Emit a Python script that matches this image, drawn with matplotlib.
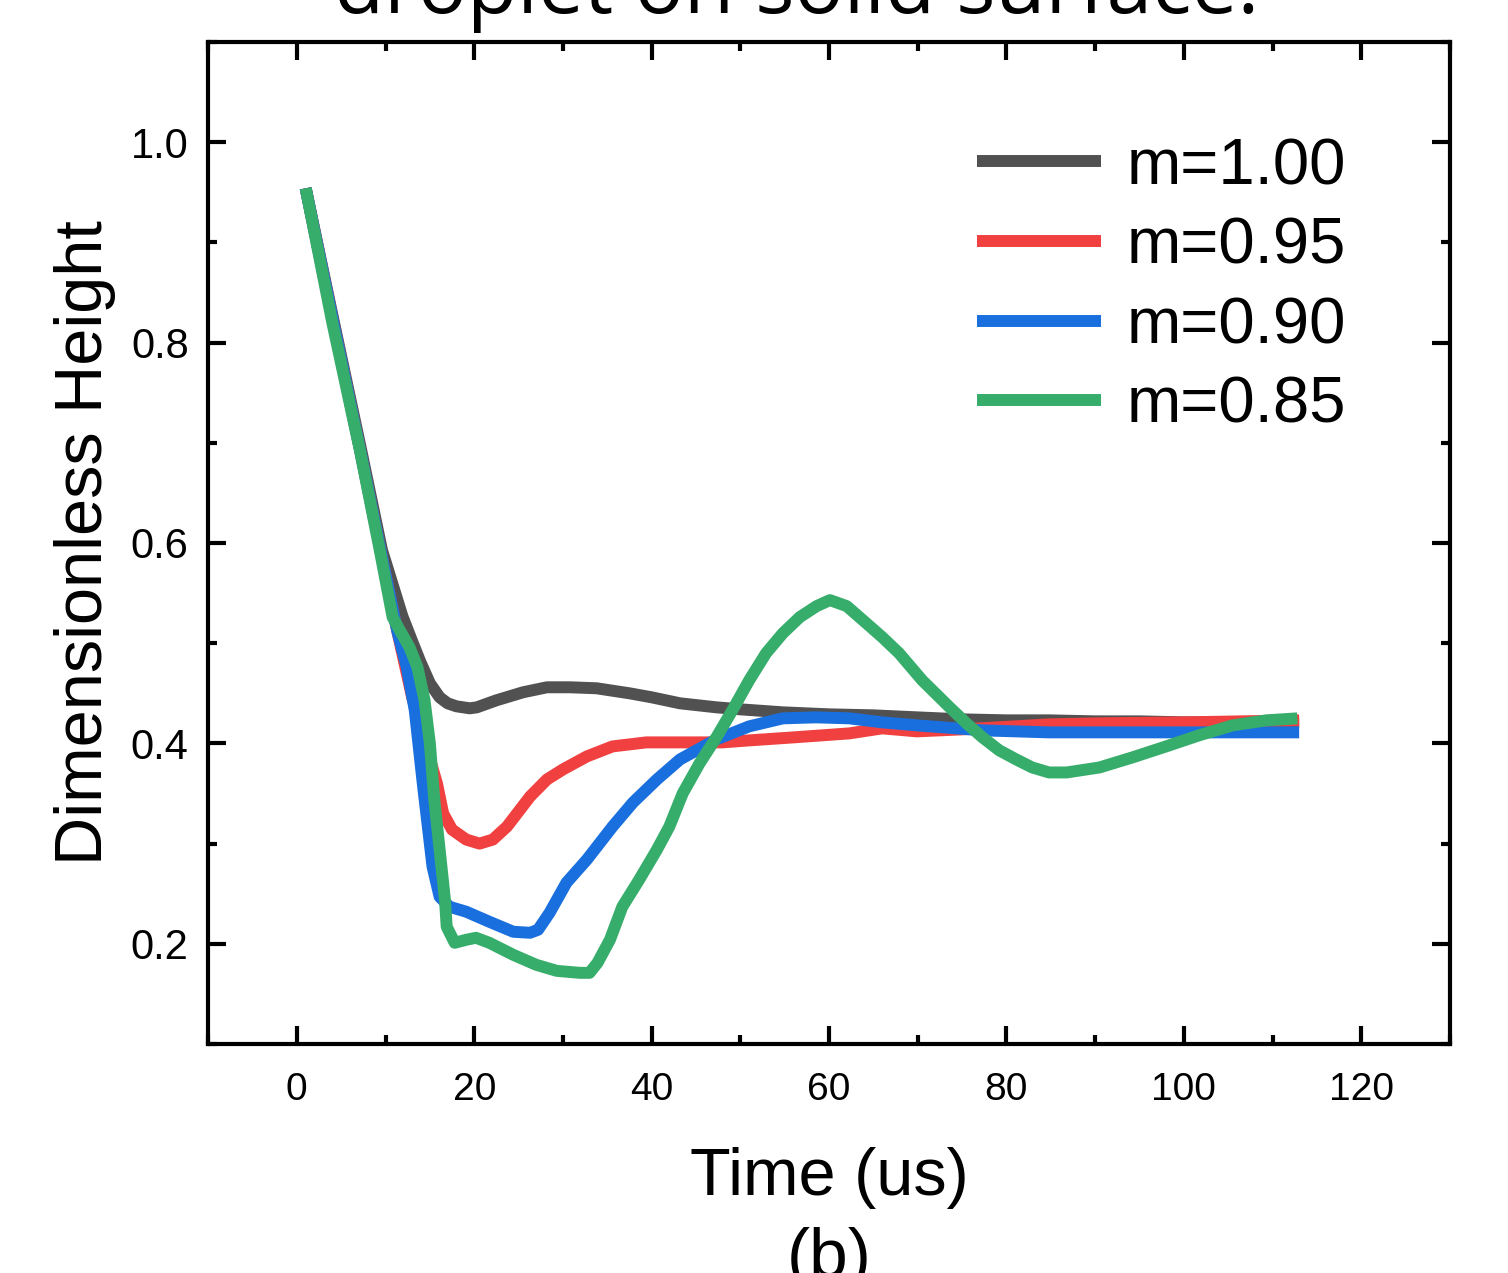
import matplotlib
matplotlib.use("Agg")
import matplotlib.pyplot as plt
from matplotlib.ticker import MultipleLocator

# m = 1.00
t_100 = [1, 4, 7.25, 9.6, 11.9, 13.0, 13.9, 15, 16.1, 17, 18, 19.5, 20.3, 22.5, 25.5,
         28.2, 30.8, 33.8, 37.5, 40, 43.2, 47.3, 50, 54.8, 60, 65, 69.9, 75, 80, 84.8,
         90, 95, 100, 113]
h_100 = [0.954, 0.828, 0.693, 0.593, 0.527, 0.502, 0.482, 0.46, 0.446, 0.44, 0.437,
         0.435, 0.436, 0.443, 0.451, 0.456, 0.456, 0.455, 0.45, 0.446, 0.44, 0.436,
         0.434, 0.431, 0.429, 0.428, 0.426, 0.424, 0.423, 0.423, 0.422, 0.422, 0.421,
         0.421]

# m = 0.95
t_095 = [1, 4, 7.2, 9.5, 11.3, 13, 14.5, 15.8, 16.5, 17.5, 19.1, 20.6, 22.1, 23.7,
         26.3, 28.2, 30, 32.7, 35.6, 39.4, 43.2, 48, 51, 56, 62.3, 66, 69.9, 75, 81,
         84.8, 90, 100, 113]
h_095 = [0.954, 0.825, 0.69, 0.59, 0.513, 0.446, 0.40, 0.36, 0.33, 0.314, 0.304, 0.30,
         0.304, 0.317, 0.347, 0.364, 0.374, 0.387, 0.397, 0.401, 0.401, 0.401, 0.403,
         0.406, 0.41, 0.415, 0.412, 0.414, 0.417, 0.419, 0.42, 0.421, 0.423]

# m = 0.90
t_090 = [1, 4, 7.2, 9.5, 11.3, 12.4, 13.3, 14.2, 15.3, 16.1, 17.2, 19.1, 21.7, 24.4,
         26.3, 27.2, 28.5, 30.4, 32.7, 35.6, 37.9, 40.6, 43.2, 47.3, 51, 54.8, 58.5,
         62.3, 66, 69.9, 77.3, 84.8, 90, 100, 113]
h_090 = [0.954, 0.825, 0.69, 0.59, 0.513, 0.476, 0.433, 0.36, 0.277, 0.247, 0.237,
         0.232, 0.222, 0.212, 0.211, 0.214, 0.231, 0.261, 0.284, 0.317, 0.341, 0.364,
         0.384, 0.404, 0.417, 0.425, 0.426, 0.425, 0.421, 0.418, 0.413, 0.411, 0.411,
         0.411, 0.411]

# m = 0.85
t_085 = [1, 4, 7.1, 9.35, 10.8, 11.6, 12.7, 13.6, 14.4, 15.0, 15.5, 16.1, 16.7, 16.9,
         17.8, 19.1, 20.2, 21.7, 24.4, 27, 29.3, 31.9, 33, 33.9, 35.3, 36.7, 38.6, 40.6,
         42, 43.5, 45.4, 47.3, 49.1, 51, 52.9, 54.8, 56.7, 58.6, 60.1, 62, 64.2, 66,
         67.9, 70.5, 73.6, 75.5, 77.3, 79.2, 81.1, 82.9, 84.8, 86.8, 90.5, 94.2, 98,
         101.7, 105.5, 109.3, 112.8]
h_085 = [0.954, 0.82, 0.693, 0.593, 0.526, 0.513, 0.496, 0.476, 0.443, 0.40, 0.344,
         0.294, 0.244, 0.217, 0.201, 0.204, 0.206, 0.201, 0.189, 0.179, 0.173, 0.171,
         0.171, 0.181, 0.204, 0.237, 0.264, 0.294, 0.317, 0.35, 0.38, 0.406, 0.433,
         0.463, 0.49, 0.51, 0.526, 0.537, 0.543, 0.537, 0.52, 0.506, 0.49, 0.463, 0.436,
         0.42, 0.406, 0.393, 0.384, 0.376, 0.371, 0.371, 0.376, 0.386, 0.397, 0.408,
         0.418, 0.423, 0.425]

labels = ["m=1.00", "m=0.95", "m=0.90", "m=0.85"]
colors = ["#515151", "#F14040", "#1A6FDF", "#37AD6B"]

plt.rcParams["font.family"] = ["Liberation Sans", "DejaVu Sans"]

fig = plt.figure(figsize=(7.54, 6.365), dpi=200)
ax = fig.add_axes([0.138, 0.1799, 0.8235, 0.7871])

series = [(t_100, h_100), (t_095, h_095), (t_090, h_090), (t_085, h_085)]
for (t, h), lab, c in zip(series, labels, colors):
    ax.plot(t, h, color=c, lw=4.3, label=lab,
            solid_joinstyle="round", solid_capstyle="butt")

ax.set_xlim(-10, 130)
ax.set_ylim(0.1, 1.1)
ax.xaxis.set_major_locator(MultipleLocator(20))
ax.xaxis.set_minor_locator(MultipleLocator(10))
ax.yaxis.set_minor_locator(MultipleLocator(0.1))
ax.set_yticks([0.2, 0.4, 0.6, 0.8, 1.0])
ax.set_yticklabels(["0.2", "0.4", "0.6", "0.8", "1.0"])

for s in ax.spines.values():
    s.set_linewidth(1.5)
ax.tick_params(which="both", direction="in", top=True, right=True, width=1.5)
ax.tick_params(which="major", length=6.5, labelsize=14)
ax.tick_params(axis="y", which="major", labelsize=15, pad=7)
ax.tick_params(axis="x", which="major", pad=10)
ax.tick_params(which="minor", length=3.3)

ax.set_xlabel("Time (us)", fontsize=24, labelpad=14)
ax.set_ylabel("Dimensionless Height", fontsize=24, labelpad=5.5)

leg = ax.legend(loc="upper left", bbox_to_anchor=(0.619, 0.905), frameon=False,
                fontsize=23.5, handlelength=1.9, handletextpad=0.4,
                labelspacing=0.3, borderpad=0, borderaxespad=0)

fig.text(0.5285, 1 - 13 / 1273, "droplet on solid surface.", ha="center",
         va="baseline", fontsize=29.5, family="Open Sans")
fig.text(0.55, -0.003, "(b)", ha="center", va="baseline", fontsize=25)

fig.savefig("out.png", dpi=200)
